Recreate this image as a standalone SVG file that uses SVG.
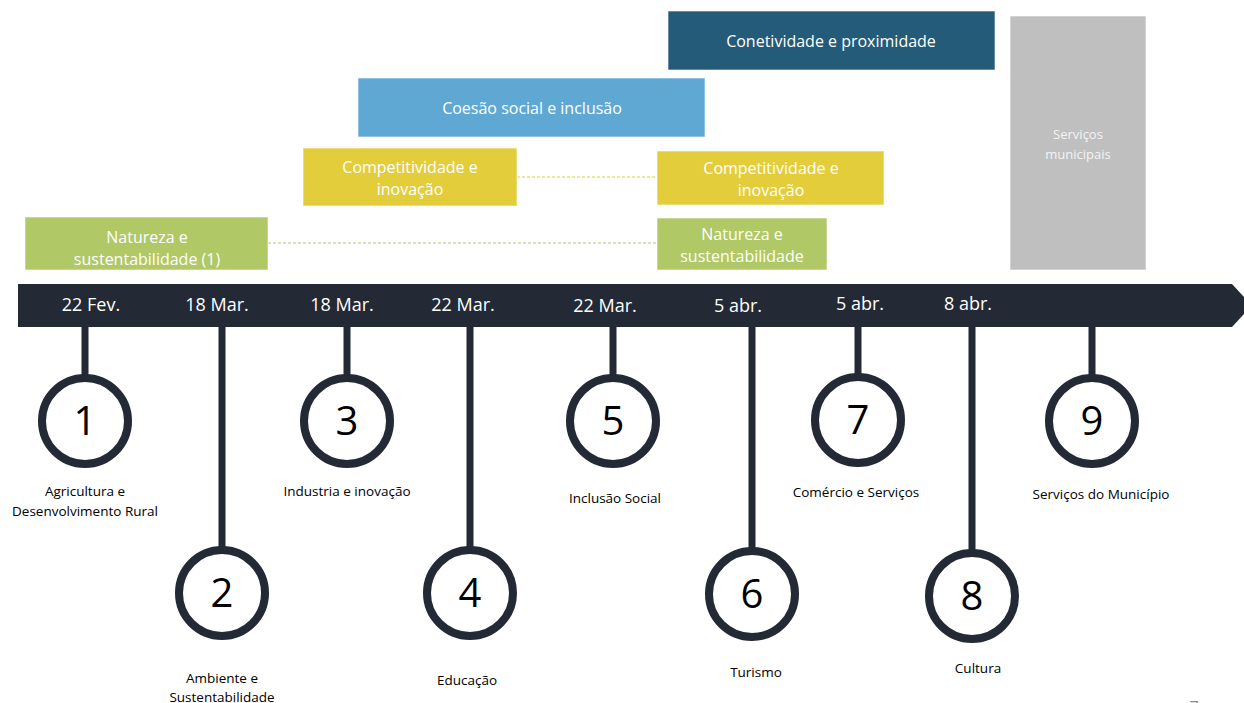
<svg xmlns="http://www.w3.org/2000/svg" width="1244" height="703" viewBox="0 0 1244 703">
  <style>
    text { font-family: "Open Sans", "Noto Sans", "Liberation Sans", sans-serif; }
    .box { stroke: #ffffff; stroke-opacity: 0.6; stroke-width: 1; }
    .btxt { fill: #ffffff; font-size: 16px; text-anchor: middle; }
    .gtxt { fill: #f4f4f4; font-size: 13px; text-anchor: middle; }
    .date { fill: #ffffff; font-size: 18px; text-anchor: middle; }
    .stem { stroke: #232a36; stroke-width: 7; fill: none; }
    .ring { fill: #ffffff; stroke: #232a36; stroke-width: 8; }
    .num { fill: #000000; font-size: 40px; text-anchor: middle; }
    .lbl { fill: #000000; font-size: 13.5px; text-anchor: middle; }
    .dash-y { stroke: #e4cd3b; stroke-width: 1; stroke-dasharray: 3 2; }
    .dash-g { stroke: #b0c865; stroke-width: 1; stroke-dasharray: 3 2; }
  </style>

  <rect width="1244" height="703" fill="#ffffff"/>

  <!-- theme bars above the timeline -->
  <g id="connectors">
    <line class="dash-y" x1="517" y1="177" x2="657" y2="177"/>
    <line class="dash-g" x1="268" y1="243" x2="657" y2="243"/>
  </g>

  <g id="conetividade">
    <rect class="box" x="668" y="11" width="327" height="59" fill="#235b78"/>
    <text class="btxt" x="831" y="47">Conetividade e proximidade</text>
  </g>
  <g id="coesao">
    <rect class="box" x="358" y="78" width="347" height="59" fill="#5fa8d3"/>
    <text class="btxt" x="532" y="114">Coesão social e inclusão</text>
  </g>
  <g id="competitividade-1">
    <rect class="box" x="303" y="148" width="214" height="58" fill="#e4cd3b"/>
    <text class="btxt" x="410" y="173">Competitividade e</text>
    <text class="btxt" x="410" y="195">inovação</text>
  </g>
  <g id="competitividade-2">
    <rect class="box" x="657" y="151" width="227" height="54" fill="#e4cd3b"/>
    <text class="btxt" x="771" y="174">Competitividade e</text>
    <text class="btxt" x="771" y="196">inovação</text>
  </g>
  <g id="natureza-1">
    <rect class="box" x="25" y="217" width="243" height="53" fill="#b0c865"/>
    <text class="btxt" x="147" y="243">Natureza e</text>
    <text class="btxt" x="147" y="265">sustentabilidade (1)</text>
  </g>
  <g id="natureza-2">
    <rect class="box" x="657" y="218" width="170" height="52" fill="#b0c865"/>
    <text class="btxt" x="742" y="240">Natureza e</text>
    <text class="btxt" x="742" y="262">sustentabilidade</text>
  </g>
  <g id="servicos-municipais">
    <rect class="box" x="1010" y="16" width="136" height="254" fill="#bfbfbf"/>
    <text class="gtxt" x="1078" y="139">Serviços</text>
    <text class="gtxt" x="1078" y="159">municipais</text>
  </g>

  <!-- timeline arrow -->
  <g id="timeline">
    <polygon points="18,284 1232,284 1252,305.5 1232,327 18,327" fill="#232a36"/>
    <text class="date" x="91" y="311">22 Fev.</text>
    <text class="date" x="217" y="311">18 Mar.</text>
    <text class="date" x="342" y="311">18 Mar.</text>
    <text class="date" x="463" y="311">22 Mar.</text>
    <text class="date" x="605" y="312">22 Mar.</text>
    <text class="date" x="738" y="312">5 abr.</text>
    <text class="date" x="860" y="310">5 abr.</text>
    <text class="date" x="968" y="310">8 abr.</text>
  </g>

  <!-- milestones -->
  <g id="m1">
    <line class="stem" x1="85" y1="326" x2="85" y2="378"/>
    <circle class="ring" cx="85" cy="421" r="43"/>
    <text class="num" x="85" y="435">1</text>
    <text class="lbl" x="85" y="496">Agricultura e</text>
    <text class="lbl" x="85" y="516">Desenvolvimento Rural</text>
  </g>
  <g id="m2">
    <line class="stem" x1="222" y1="326" x2="222" y2="550"/>
    <circle class="ring" cx="222" cy="593" r="43"/>
    <text class="num" x="222" y="607">2</text>
    <text class="lbl" x="222" y="683">Ambiente e</text>
    <text class="lbl" x="222" y="702">Sustentabilidade</text>
  </g>
  <g id="m3">
    <line class="stem" x1="347" y1="326" x2="347" y2="378"/>
    <circle class="ring" cx="347" cy="421" r="43"/>
    <text class="num" x="347" y="435">3</text>
    <text class="lbl" x="347" y="496">Industria e inovação</text>
  </g>
  <g id="m4">
    <line class="stem" x1="470" y1="326" x2="470" y2="550"/>
    <circle class="ring" cx="470" cy="593" r="43"/>
    <text class="num" x="470" y="607">4</text>
    <text class="lbl" x="467" y="685">Educação</text>
  </g>
  <g id="m5">
    <line class="stem" x1="613" y1="326" x2="613" y2="378"/>
    <circle class="ring" cx="613" cy="421" r="43"/>
    <text class="num" x="613" y="435">5</text>
    <text class="lbl" x="615" y="503">Inclusão Social</text>
  </g>
  <g id="m6">
    <line class="stem" x1="752" y1="326" x2="752" y2="551"/>
    <circle class="ring" cx="752" cy="594" r="43"/>
    <text class="num" x="752" y="608">6</text>
    <text class="lbl" x="756" y="677">Turismo</text>
  </g>
  <g id="m7">
    <line class="stem" x1="858" y1="326" x2="858" y2="377"/>
    <circle class="ring" cx="858" cy="420" r="43"/>
    <text class="num" x="858" y="434">7</text>
    <text class="lbl" x="856" y="497">Comércio e Serviços</text>
  </g>
  <g id="m8">
    <line class="stem" x1="972" y1="326" x2="972" y2="553"/>
    <circle class="ring" cx="972" cy="596" r="43"/>
    <text class="num" x="972" y="610">8</text>
    <text class="lbl" x="978" y="673">Cultura</text>
  </g>
  <g id="m9">
    <line class="stem" x1="1092" y1="326" x2="1092" y2="378"/>
    <circle class="ring" cx="1092" cy="421" r="43"/>
    <text class="num" x="1092" y="435">9</text>
    <text class="lbl" x="1101" y="499">Serviços do Município</text>
  </g>

  <!-- page number, cut at the bottom edge -->
  <text x="1194" y="713" font-size="16" fill="#8c8c8c" text-anchor="middle">7</text>
</svg>
